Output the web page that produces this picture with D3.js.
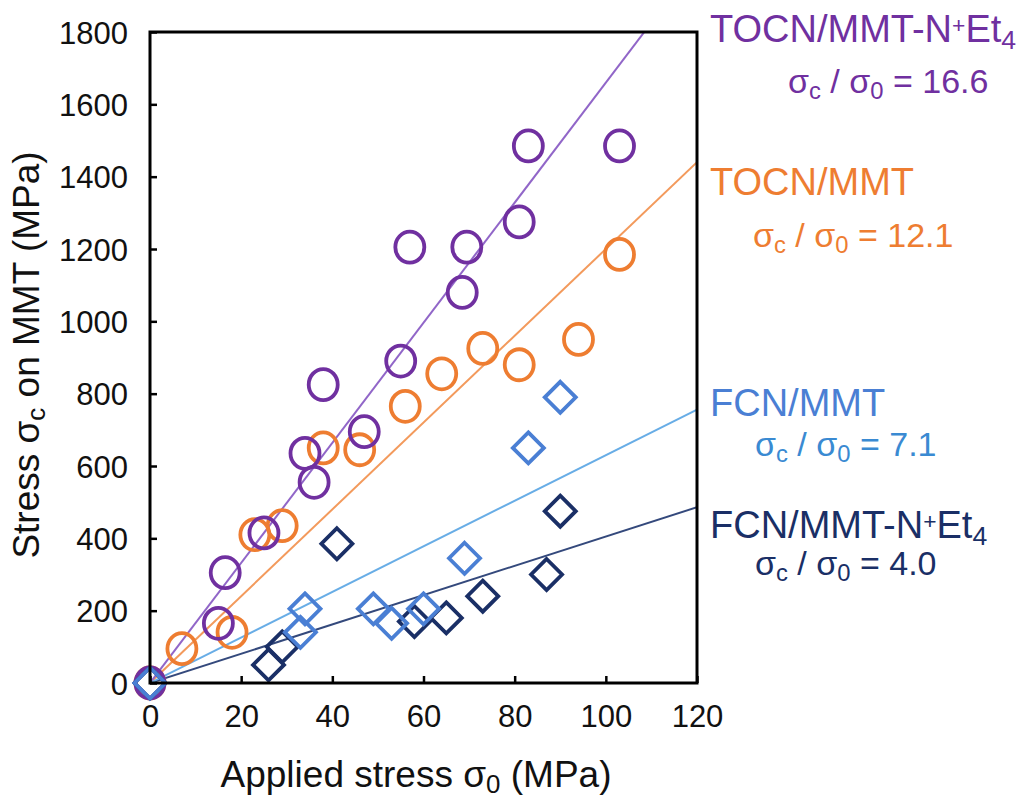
<!DOCTYPE html>
<html>
<head>
<meta charset="utf-8">
<script src="https://cdn.jsdelivr.net/npm/d3@7"></script>
<style>
  body { margin: 0; background: #fff; }
  text { font-family: "Liberation Sans", Arial, sans-serif; }
</style>
</head>
<body>
<svg id="chart" width="1022" height="802"></svg>
<script>
// values
const tocnEt4X = [0, 15, 16.5, 25, 34, 36, 38, 47, 55, 57, 68.5, 69.5, 81, 83, 103];
const tocnEt4Y = [0, 165, 305, 415, 635, 555, 825, 695, 890, 1205, 1080, 1205, 1275, 1485, 1485];
const tocnX = [0, 7, 18, 23, 29, 38, 46, 56, 64, 73, 81, 94, 103];
const tocnY = [0, 95, 140, 410, 435, 650, 645, 765, 855, 925, 880, 950, 1185];
const fcnX = [0, 33, 34, 49, 53, 60, 69, 83, 90];
const fcnY = [0, 140, 205, 205, 165, 205, 345, 650, 790];
const fcnEt4X = [0, 26, 29, 41, 58, 65, 73, 87, 90];
const fcnEt4Y = [0, 50, 100, 385, 170, 180, 240, 300, 475];
// slopes of the drawn fit lines, and the ratios printed beside them
const fitSlopes = [16.6, 12.0, 6.3, 4.05];
const ratioLabels = ['16.6', '12.1', '7.1', '4.0'];
const xTicks = [0, 20, 40, 60, 80, 100, 120];
const yTicks = [0, 200, 400, 600, 800, 1000, 1200, 1400, 1600, 1800];

const svg = d3.select('#chart');
const plotLeft = 150, plotRight = 697, plotTop = 32, plotBottom = 683;

const x = d3.scaleLinear().domain([0, 120]).range([plotLeft, plotRight]);
const y = d3.scaleLinear().domain([0, 1800]).range([plotBottom, plotTop]);

const series = [
  { name: 'TOCN/MMT', xs: tocnX, ys: tocnY, shape: 'circle', color: '#ee7d31', line: '#f39a5c', slope: fitSlopes[1] },
  { name: 'TOCN/MMT-N+Et4', xs: tocnEt4X, ys: tocnEt4Y, shape: 'circle', color: '#7030a0', line: '#9166c8', slope: fitSlopes[0] },
  { name: 'FCN/MMT-N+Et4', xs: fcnEt4X, ys: fcnEt4Y, shape: 'diamond', color: '#1a2f66', line: '#34497c', slope: fitSlopes[3] },
  { name: 'FCN/MMT', xs: fcnX, ys: fcnY, shape: 'diamond', color: '#4a7fd4', line: '#68ade6', slope: fitSlopes[2] }
];

svg.append('clipPath').attr('id', 'plot-clip')
  .append('rect')
  .attr('x', plotLeft).attr('y', plotTop)
  .attr('width', plotRight - plotLeft).attr('height', plotBottom - plotTop);

// fit lines through the origin
const lineGen = d3.line().x(d => x(d[0])).y(d => y(d[1]));
svg.append('g').attr('clip-path', 'url(#plot-clip)')
  .selectAll('path')
  .data(series)
  .join('path')
  .attr('d', s => lineGen([[0, 0], [120, 120 * s.slope]]))
  .attr('fill', 'none')
  .attr('stroke', s => s.line)
  .attr('stroke-width', 2);

// markers
const diamond = 15.5;
series.forEach(s => {
  const g = svg.append('g');
  const pts = s.xs.map((v, i) => [v, s.ys[i]]);
  if (s.shape === 'circle') {
    g.selectAll('ellipse').data(pts).join('ellipse')
      .attr('cx', d => x(d[0])).attr('cy', d => y(d[1]))
      .attr('rx', 14.5).attr('ry', 15.5)
      .attr('fill', 'none').attr('stroke', s.color).attr('stroke-width', 3.8);
  } else {
    g.selectAll('path').data(pts).join('path')
      .attr('d', d => {
        const cx = x(d[0]), cy = y(d[1]);
        return `M${cx},${cy - diamond}L${cx + diamond},${cy}L${cx},${cy + diamond}L${cx - diamond},${cy}Z`;
      })
      .attr('fill', 'none').attr('stroke', s.color).attr('stroke-width', 3.8);
  }
});

// frame and axes
svg.append('rect')
  .attr('x', plotLeft).attr('y', plotTop)
  .attr('width', plotRight - plotLeft).attr('height', plotBottom - plotTop)
  .attr('fill', 'none').attr('stroke', '#000').attr('stroke-width', 3);

const xAxis = svg.append('g')
  .attr('transform', `translate(0,${plotBottom})`)
  .call(d3.axisBottom(x).tickValues(xTicks).tickSizeInner(-7).tickSizeOuter(0).tickPadding(22));
const yAxis = svg.append('g')
  .attr('transform', `translate(${plotLeft},0)`)
  .call(d3.axisLeft(y).tickValues(yTicks).tickFormat(d3.format('d'))
    .tickSizeInner(-7).tickSizeOuter(0).tickPadding(22));
[xAxis, yAxis].forEach(a => {
  a.select('.domain').remove();
  a.selectAll('.tick line').attr('stroke', '#000').attr('stroke-width', 2.5);
  a.selectAll('.tick text')
    .attr('fill', '#111')
    .style('font-size', '31px')
    .style('font-family', '"Liberation Sans", Arial, sans-serif');
});
yAxis.selectAll('.tick text').attr('dy', '0.36em');
xAxis.selectAll('.tick text').attr('dy', '0.72em');

// axis titles
function addSub(t, main, sub, rest) {
  t.append('tspan').text(main);
  t.append('tspan').text(sub).attr('baseline-shift', '-22%').style('font-size', '70%');
  t.append('tspan').text(rest);
}
const xt = svg.append('text')
  .attr('x', 416).attr('y', 787)
  .attr('text-anchor', 'middle')
  .attr('fill', '#111')
  .style('font-size', '37px');
addSub(xt, 'Applied stress σ', '0', ' (MPa)');

const yt = svg.append('text')
  .attr('transform', 'translate(39,355) rotate(-90)')
  .attr('text-anchor', 'middle')
  .attr('fill', '#111')
  .style('font-size', '37px');
addSub(yt, 'Stress σ', 'c', ' on MMT (MPa)');

// labels to the right of the plot
const labels = [
  { name: ['TOCN/MMT-N', '+', 'Et', '4'], color: '#7030a0', rcolor: '#7030a0', y: 42, rx: 788, ry: 93, ratio: ratioLabels[0] },
  { name: ['TOCN/MMT'], color: '#ee7d31', rcolor: '#ee7d31', y: 195, rx: 753, ry: 247, ratio: ratioLabels[1] },
  { name: ['FCN/MMT'], color: '#4a7fd4', rcolor: '#3a8ad2', y: 416, rx: 755, ry: 456, ratio: ratioLabels[2] },
  { name: ['FCN/MMT-N', '+', 'Et', '4'], color: '#1a2f66', rcolor: '#1a2f66', y: 538, rx: 755, ry: 575, ratio: ratioLabels[3] }
];
labels.forEach(l => {
  const t = svg.append('text')
    .attr('x', 710).attr('y', l.y)
    .attr('fill', l.color)
    .style('font-size', '38px');
  t.append('tspan').text(l.name[0]);
  if (l.name.length > 1) {
    t.append('tspan').text(l.name[1]).attr('baseline-shift', '40%').style('font-size', '60%');
    t.append('tspan').text(l.name[2]);
    t.append('tspan').text(l.name[3]).attr('baseline-shift', '-25%').style('font-size', '70%');
  }
  const r = svg.append('text')
    .attr('x', l.rx).attr('y', l.ry)
    .attr('fill', l.rcolor)
    .style('font-size', '34px');
  r.append('tspan').text('σ');
  r.append('tspan').text('c').attr('baseline-shift', '-25%').style('font-size', '70%');
  r.append('tspan').text(' / σ');
  r.append('tspan').text('0').attr('baseline-shift', '-25%').style('font-size', '70%');
  r.append('tspan').text(' = ' + l.ratio);
});
</script>
</body>
</html>
